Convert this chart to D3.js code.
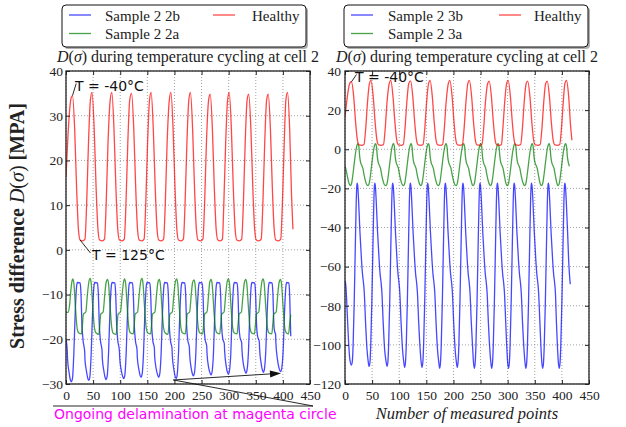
<!DOCTYPE html>
<html lang="en">
<head>
<meta charset="UTF-8">
<title>D(σ) during temperature cycling at cell 2</title>
<script src="https://d3js.org/d3.v7.min.js"></script>
<style>
  body { margin: 0; background: #fff; }
  svg text { font-family: "Liberation Serif", "DejaVu Serif", serif; fill: #222; }
  .grid line { stroke: #8a8a8a; stroke-width: 0.8; stroke-dasharray: 1,2; }
  .frame { fill: none; stroke: #222; stroke-width: 1.3; }
  .series { fill: none; stroke-width: 1.3; stroke-linejoin: round; stroke-opacity: 0.72; }
  svg text.note { font-family: "DejaVu Sans", sans-serif; font-size: 14px; fill: #111; }
  svg text.note.magenta { fill: #ff00ff; }
  .leader { stroke: #111; stroke-width: 0.9; fill: none; }
</style>
</head>
<body>
<script>
// ---- data ----
const xTicks = [0, 50, 100, 150, 200, 250, 300, 350, 400, 450];
const leftYTicks = [-30, -20, -10, 0, 10, 20, 30, 40];
const rightYTicks = [-120, -100, -80, -60, -40, -20, 0, 20, 40];

const leftLegend = ["Sample 2 2b", "Sample 2 2a", "Healthy"];
const rightLegend = ["Sample 2 3b", "Sample 2 3a", "Healthy"];

// Healthy (same in both panels)
const healthy = [
  [0,16.3],[3,24],[6.5,31],[9.5,34],[12,34.5],
  [16,27],[19.5,14],[23,4.5],[26,2.2],[31,2],[35,2.4],[38,10],[41.5,24],[45,33.5],[48,35.2],
  [52,27],[55.5,14],[59,4.5],[62,2.2],[67,2],[71,2.4],[74,10],[77.5,24],[81.5,33.5],[84.5,35.2],
  [88.5,27],[92,14],[95.5,4.5],[98.5,2.2],[103.5,2],[107.5,2.4],[110.5,10],[114,24],[117.5,33.5],[121,35],
  [125,27],[128.5,14],[132,4.5],[135,2.2],[140,2],[144,2.4],[147,10],[150.5,24],[154,33.5],[157,35.2],
  [161,27],[164.5,14],[168,4.5],[171,2.2],[176,2],[180,2.4],[183,10],[186.5,24],[190.5,33.5],[193.5,35.2],
  [197.5,27],[201,14],[204.5,4.5],[207.5,2.2],[212.5,2],[216.5,2.4],[219.5,10],[223,24],[226.5,33.5],[229.5,35.2],
  [233.5,27],[237,14],[240.5,4.5],[243.5,2.2],[248.5,2],[252.5,2.4],[255.5,10],[259,24],[263,33.5],[266,34.8],
  [270,27],[273.5,14],[277,4.5],[280,2.2],[285,2],[288.5,2.4],[291,10],[294.5,24],[298,33.5],[301,35.2],
  [305,27],[308.5,14],[312,4.5],[315,2.2],[320,2],[324,2.4],[327,10],[330.5,24],[334,33.5],[337,34.8],
  [341,27],[344.5,14],[348,4.5],[351,2.2],[356,2],[360,2.4],[363,10],[366.5,24],[370,33.5],[373,34.8],
  [377,27],[380.5,14],[384,4.5],[387,2.2],[392,2],[396,2.4],[399,10],[402.5,24],[405.5,33.5],[408.5,35.2],
  [412.5,27],[416,12],[418.5,4.6]
];

// Sample 2 2a (left, green)
const sample22a = [
  [0,-14],[4,-14],[6.5,-12.5],[9,-9],[11,-7],[12.5,-6.5],
  [14.5,-7.5],[17.5,-13],[20.5,-17.5],[23.5,-18.6],[28.5,-18.8],[30.5,-16.5],[32,-14.4],[36.5,-13.9],[39.5,-10],[42,-7.3],[44.5,-6.4],
  [46.5,-7.5],[49.5,-13],[52.5,-17.5],[55.5,-18.6],[60.5,-18.9],[62.5,-16.5],[64,-14.4],[68.5,-13.9],[71.5,-10],[74,-7.3],[76.5,-6.6],
  [78.5,-7.6],[81.5,-13],[84.5,-17.5],[87.5,-18.7],[92.5,-18.9],[94.5,-16.5],[96,-14.4],[100.5,-13.9],[103.5,-10],[106,-7.3],[108,-6.5],
  [110,-7.5],[113,-13],[116,-17.5],[119,-18.6],[124,-18.8],[126,-16.5],[127.5,-14.4],[132,-13.9],[135,-10],[137.5,-7.3],[140,-6.4],
  [142,-7.5],[145,-13],[148,-17.5],[151,-18.6],[156,-18.8],[158,-16.5],[159.5,-14.4],[164,-13.9],[167,-10],[169.5,-7.3],[172,-6.6],
  [174,-7.6],[177,-13],[180,-17.5],[183,-18.6],[188,-18.9],[190,-16.5],[191.5,-14.4],[196,-13.9],[199,-10],[201.5,-7.3],[204,-6.5],
  [206,-7.5],[209,-13],[212,-17.5],[215,-18.6],[220,-18.8],[222,-16.5],[223.5,-14.4],[228,-13.9],[231,-10],[233.5,-7.3],[236,-6.7],
  [238,-7.7],[241,-13],[244,-17.5],[247,-18.6],[252,-18.8],[254,-16.5],[255.5,-14.4],[260,-13.9],[263,-10],[265,-7.3],[267.5,-6.6],
  [269.5,-7.6],[272.5,-13],[275.5,-17.5],[278.5,-18.6],[283.5,-18.8],[285.5,-16.5],[287,-14.4],[291.5,-13.9],[294.5,-10],[297,-7.3],[299.5,-6.5],
  [301.5,-7.5],[304.5,-13],[307.5,-17.5],[310.5,-18.6],[315.5,-18.8],[317.5,-16.5],[319,-14.4],[323.5,-13.9],[326.5,-10],[329,-7.3],[331.5,-6.6],
  [333.5,-7.6],[336.5,-13],[339.5,-17.5],[342.5,-18.6],[347.5,-18.8],[349.5,-16.5],[351,-14.4],[355.5,-13.9],[358.5,-10],[361,-7.3],[363.5,-6.5],
  [365.5,-7.5],[368.5,-13],[371.5,-17.5],[374.5,-18.6],[379.5,-18.8],[381.5,-16.5],[383,-14.4],[387.5,-13.9],[390.5,-10],[393,-7.3],[395.5,-6.6],
  [397.5,-7.6],[400.5,-13],[403.5,-17.5],[406.5,-18.6],[410.5,-18.8],[412.5,-16.5],[414.5,-14.5]
];

// Sample 2 2b (left, blue)
const sample22b = [
  [0,-20.1],[2.3,-22.5],[2.8,-24.3],[5.8,-27.5],[7.8,-29],[10,-29.5],
  [12,-28.7],[14.5,-23],[17,-14],[19.5,-8.2],[21,-7.3],[26,-7.4],[27.5,-9.5],[29.5,-17],[31.5,-20.3],[34.5,-22.8],[35,-24.6],[38,-27.3],[40,-28.7],[42,-29.2],
  [44,-28.4],[46.5,-23],[49,-14],[51.5,-8.2],[53,-7.3],[58,-7.4],[59.5,-9.5],[61.5,-17],[63.5,-20.3],[66.5,-22.5],[67,-24.3],[70,-27.2],[72,-28.5],[74,-29],
  [76,-28.2],[78.5,-23],[81,-14],[83.5,-8.2],[85,-7.3],[90,-7.4],[91.5,-9.5],[93.5,-17],[95.5,-20.3],[98.5,-22.5],[99,-24],[102,-27],[104.5,-28.3],[106.5,-28.8],
  [108.5,-28],[111,-23],[113.5,-14],[116,-8.2],[117.5,-7.3],[122.5,-7.4],[124,-9.5],[126,-17],[128,-20.3],[131,-22.3],[131.5,-24],[134.5,-26.8],[136.5,-28],[138.5,-28.5],
  [140.5,-27.7],[143,-23],[145.5,-14],[148,-8.2],[149.5,-7.3],[154.5,-7.4],[156,-9.5],[158,-17],[160,-20.2],[163,-22],[163.5,-23.8],[166.5,-26.7],[169,-28],[171,-28.5],
  [173,-27.7],[175.5,-23],[178,-14],[180.5,-8.2],[182,-7.3],[187,-7.4],[188.5,-9.5],[190.5,-17],[192.5,-20.2],[195.5,-22],[196,-23.5],[199,-26.8],[201,-28.2],[203,-28.8],
  [205,-28],[207.5,-23],[210,-14],[212.5,-8.2],[214,-7.3],[219,-7.4],[220.5,-9.5],[222.5,-17],[224.5,-20.1],[227.5,-21.8],[228,-23.3],[231,-26.5],[233,-27.7],[235,-28.2],
  [237,-27.4],[239.5,-23],[242,-14],[244.5,-8.2],[246,-7.3],[251,-7.4],[252.5,-9.5],[254.5,-17],[256.5,-20],[259.5,-21.5],[260,-23],[263,-26.3],[265.5,-27.5],[267.5,-28],
  [269.5,-27.2],[272,-23],[274.5,-14],[277,-8.2],[278.5,-7.3],[283.5,-7.4],[285,-9.5],[287,-17],[289,-19.8],[292,-21],[292.5,-22.5],[295.5,-26],[297.5,-27.3],[299.5,-27.8],
  [301.5,-27],[304,-23],[306.5,-14],[309,-8.2],[310.5,-7.3],[315.5,-7.4],[317,-9.5],[319,-17],[321,-19.6],[324,-20.8],[324.5,-22.3],[327.5,-25.8],[330,-27.1],[332,-27.6],
  [334,-26.8],[336.5,-22.8],[339,-14],[341.5,-8.2],[343,-7.3],[348,-7.4],[349.5,-9.5],[351.5,-17],[353.5,-19.4],[356.5,-20.5],[357,-22],[360,-25.5],[362,-26.8],[364,-27.4],
  [366,-26.6],[368.5,-22.5],[371,-14],[373.5,-8.2],[375,-7.3],[380,-7.4],[381.5,-9.5],[383.5,-17],[385,-18.4],[386.5,-18.8],[387,-20.6],[390,-24.5],[393,-26.5],[396,-27.2],
  [398,-26.4],[400.5,-22.5],[403,-14],[405.5,-8.2],[407,-7.3],[411,-7.4],[412.5,-10],[414.5,-19.3]
];

// Sample 2 3a (right, green)
const sample23a = [
  [0,-8.7],[2,-10.5],[4.5,-14],[7.5,-17.5],[10.5,-18.6],[12.5,-17],[15,-12],[18,-5],[20.5,0],[22.5,2.3],[24,2.8],
  [25.5,1.5],[27,-3.5],[29,-7],[31,-8.3],[33,-9.8],[35,-12.8],[38,-16.5],[40.5,-18.3],[43,-18.6],[45,-17],[47.5,-12],[50.5,-5],[53,0],[55,2.3],[56.5,2.8],
  [58,1.5],[59.5,-3.5],[61.5,-7],[63.5,-8.3],[65.5,-9.8],[67.5,-12.8],[70.5,-16.5],[73,-18.3],[76,-18.6],[78,-17],[80.5,-12],[83.5,-5],[86,0],[88,2.3],[89.5,2.8],
  [91,1.5],[92.5,-3.5],[94.5,-7],[96.5,-8.3],[98.5,-9.8],[100.5,-12.8],[103.5,-16.5],[106,-18.3],[108.5,-18.6],[110.5,-17],[113,-12],[116,-5],[118.5,0],[120.5,2.3],[122,2.8],
  [123.5,1.5],[125,-3.5],[127,-7],[129,-8.3],[131,-9.8],[133,-12.8],[136,-16.5],[138.5,-18.3],[140.5,-18.6],[142.5,-17],[145,-12],[148,-5],[150.5,0],[152.5,2.3],[154,2.8],
  [155.5,1.5],[157,-3.5],[159,-7],[161,-8.3],[163,-9.8],[165,-12.8],[168,-16.5],[170.5,-18.3],[173,-18.6],[175,-17],[177.5,-12],[180.5,-5],[183,0],[185,2.3],[186.5,2.8],
  [188,1.5],[189.5,-3.5],[191.5,-7],[193.5,-8.3],[195.5,-9.8],[197.5,-12.8],[200.5,-16.5],[203,-18.3],[205.5,-18.6],[207.5,-17],[210,-12],[213,-5],[215.5,0],[217.5,2.3],[219,2.8],
  [220.5,1.5],[222,-3.5],[224,-7],[226,-8.3],[228,-9.8],[230,-12.8],[233,-16.5],[235,-18.3],[237,-18.6],[239,-17],[241.5,-12],[244.5,-5],[247,0],[249,2.3],[250.5,2.8],
  [252,1.5],[253.5,-3.5],[255.5,-7],[257.5,-8.3],[259.5,-9.8],[261.5,-12.8],[264.5,-16.5],[267,-18.3],[269,-18.6],[271,-17],[273.5,-12],[276.5,-5],[279,0],[281,2.3],[282.5,2.8],
  [284,1.5],[285.5,-3.5],[287.5,-7],[289.5,-8.3],[291.5,-9.8],[293.5,-12.8],[296,-16.5],[298,-18.3],[300,-18.6],[302,-17],[304.5,-12],[307.5,-5],[310,0],[312,2.3],[313.5,2.8],
  [315,1.5],[316.5,-3.5],[318.5,-7],[320.5,-8.3],[322.5,-9.8],[324.5,-12.8],[327.5,-16.5],[330,-18.3],[332,-18.6],[334,-17],[336.5,-12],[339.5,-5],[342,0],[344,2.3],[345.5,2.8],
  [347,1.5],[348.5,-3.5],[350.5,-7],[352.5,-8.3],[354.5,-9.8],[356.5,-12.8],[359,-16.5],[361,-18.3],[363,-18.6],[365,-17],[367.5,-12],[370.5,-5],[373,0],[375,2.3],[376.5,2.8],
  [378,1.5],[379.5,-3.5],[381.5,-7],[383.5,-8.3],[385.5,-9.8],[387.5,-12.8],[390,-16.5],[392,-18.3],[393.5,-18.6],[395.5,-17],[398,-12],[401,-5],[403.5,0],[405.5,2.3],[407,2.8],
  [408.5,1.5],[410,-3.5],[412,-7],[414,-8.7]
];

// Sample 2 3b (right, blue)
const sample23b = [
  [0,-67.2],[1.5,-69.5],[4,-83],[6.5,-98],[9,-107.5],[12,-110.3],[13.5,-108.5],[15,-100],[17,-78],[19,-50],[20.7,-27],[21.7,-19],[22.5,-17.3],
  [23.5,-18.8],[25,-26],[27.5,-42],[30.5,-57],[32.5,-64.5],[34,-68],[35.5,-73],[38,-89],[40.5,-102],[43,-109],[44.5,-111],[46,-109],[47.5,-100],[49.5,-78],[51.5,-50],[53.2,-27],[54.2,-19],[55,-17.3],
  [56,-18.8],[57.5,-26],[60,-42],[63,-57],[65,-64.5],[66.5,-68],[68,-73],[70.5,-89],[73,-102],[76,-109],[77.5,-111],[79,-109],[80.5,-100],[82.5,-78],[84.5,-50],[86.2,-27],[87.2,-19],[88,-17.3],
  [89,-18.8],[90.5,-26],[93,-42],[96,-57],[98,-64.5],[99.5,-68],[101,-73],[103.5,-89],[106,-102],[108.5,-109],[110,-111.5],[111.5,-109],[113,-100],[115,-78],[117,-50],[118.7,-27],[119.7,-19],[120.5,-17.3],
  [121.5,-18.8],[123,-26],[125.5,-42],[128.5,-57],[130.5,-64.5],[132,-68],[133.5,-73],[136,-89],[138.5,-102],[140.5,-109],[142,-111.5],[143.5,-109],[145,-100],[147,-78],[149,-50],[150.7,-27],[151.7,-19],[152.5,-17.3],
  [153.5,-18.8],[155,-26],[157.5,-42],[160.5,-57],[162.5,-64.5],[164,-68],[165.5,-73],[168,-89],[170.5,-102],[173,-109],[174.5,-112],[176,-109.5],[177.5,-100],[179.5,-78],[181.5,-50],[183.2,-27],[184.2,-19],[185,-17.3],
  [186,-18.8],[187.5,-26],[190,-42],[193,-57],[195,-64.5],[196.5,-68],[198,-73],[200.5,-89],[203,-102],[205.5,-109],[207,-111.5],[208.5,-109],[210,-100],[212,-78],[214,-50],[215.7,-27],[216.7,-19],[217.5,-17.3],
  [218.5,-18.8],[220,-26],[222.5,-42],[225.5,-57],[227.5,-64.5],[229,-68],[230.5,-73],[233,-89],[235.5,-102],[237,-109],[238.5,-112],[240,-109.5],[241.5,-100],[243.5,-78],[245.5,-50],[247.2,-27],[248.2,-19],[249,-17.3],
  [250,-18.8],[251.5,-26],[254,-42],[257,-57],[259,-64.5],[260.5,-68],[262,-73],[264.5,-89],[267,-102],[269,-109],[270.5,-112],[272,-109.5],[273.5,-100],[275.5,-78],[277.5,-50],[279.2,-27],[280.2,-19],[281,-17.3],
  [282,-18.8],[283.5,-26],[286,-42],[289,-57],[291,-64.5],[292.5,-68],[294,-73],[296.5,-89],[298.5,-102],[300,-109],[301.5,-112],[303,-109.5],[304.5,-100],[306.5,-78],[308.5,-50],[310.2,-27],[311.2,-19],[312,-17.3],
  [313,-18.8],[314.5,-26],[317,-42],[320,-57],[322,-64.5],[323.5,-68],[325,-73],[327.5,-89],[330,-102],[332,-109],[333.5,-112],[335,-109.5],[336.5,-100],[338.5,-78],[340.5,-50],[342.2,-27],[343.2,-19],[344,-17.3],
  [345,-18.8],[346.5,-26],[349,-42],[352,-57],[354,-64.5],[355.5,-68],[357,-73],[359.5,-89],[361.5,-102],[363,-109],[364.5,-112],[366,-109.5],[367.5,-100],[369.5,-78],[371.5,-50],[373.2,-27],[374.2,-19],[375,-17.3],
  [376,-18.8],[377.5,-26],[380,-42],[383,-57],[385,-64.5],[386.5,-68],[388,-73],[390,-89],[392,-102],[393.5,-109],[395,-112],[396.5,-109.5],[398,-100],[400,-78],[402,-50],[403.7,-27],[404.7,-19],[405.5,-17.3],
  [406.5,-18.8],[408,-26],[410.5,-42],[412.5,-57],[414,-64],[415.5,-69]
];

const BLUE = "#0000ff", GREEN = "#008000", RED = "#ff0000";

// ---- layout ----
const W = 626, H = 427;
const plotTop = 71, plotBottom = 384;

const svg = d3.select("body").append("svg")
    .attr("width", W).attr("height", H)
    .attr("viewBox", `0 0 ${W} ${H}`);

const panels = [
  { left: 66, right: 310, yDomain: [-30, 40], yTicks: leftYTicks, pad: 3,
    series: [[sample22b, BLUE], [sample22a, GREEN], [healthy, RED]] },
  { left: 345, right: 589, yDomain: [-120, 40], yTicks: rightYTicks, pad: 4,
    series: [[sample23b, BLUE], [sample23a, GREEN], [healthy, RED]] }
];

const scales = panels.map((p, i) => {
  const x = d3.scaleLinear().domain([0, 450]).range([p.left, p.right]);
  const y = d3.scaleLinear().domain(p.yDomain).range([plotBottom, plotTop]);
  const g = svg.append("g");

  // dotted grid
  const grid = g.append("g").attr("class", "grid");
  grid.selectAll("line.v").data(xTicks).join("line").attr("class", "v")
      .attr("x1", d => x(d)).attr("x2", d => x(d)).attr("y1", plotTop).attr("y2", plotBottom);
  grid.selectAll("line.h").data(p.yTicks).join("line").attr("class", "h")
      .attr("x1", p.left).attr("x2", p.right).attr("y1", d => y(d)).attr("y2", d => y(d));

  g.append("clipPath").attr("id", "clip" + i)
    .append("rect").attr("x", p.left).attr("y", plotTop)
    .attr("width", p.right - p.left).attr("height", plotBottom - plotTop);

  const line = d3.line().x(d => x(d[0])).y(d => y(d[1])).curve(d3.curveMonotoneX);
  g.append("g").attr("clip-path", `url(#clip${i})`)
    .selectAll("path").data(p.series).join("path")
      .attr("class", "series")
      .attr("stroke", d => d[1])
      .attr("d", d => line(d[0]));

  // ticks on all four sides, pointing in
  const ax = (gen, tx, ty, labels) => {
    const a = g.append("g").attr("transform", `translate(${tx},${ty})`).call(gen);
    a.select(".domain").remove();
    a.selectAll(".tick line").attr("stroke", "#222");
    a.selectAll("text").attr("font-family", "Liberation Serif, serif")
      .attr("font-size", 13.5);
    if (!labels) a.selectAll("text").remove();
    return a;
  };
  ax(d3.axisBottom(x).tickValues(xTicks).tickSize(-4).tickPadding(6), 0, plotBottom, true);
  ax(d3.axisTop(x).tickValues(xTicks).tickSize(-4), 0, plotTop, false);
  ax(d3.axisLeft(y).tickValues(p.yTicks).tickSize(-4).tickPadding(p.pad), p.left, 0, true);
  ax(d3.axisRight(y).tickValues(p.yTicks).tickSize(-4), p.right, 0, false);

  g.append("rect").attr("class", "frame")
    .attr("x", p.left).attr("y", plotTop)
    .attr("width", p.right - p.left).attr("height", plotBottom - plotTop);

  // title
  const cx = (p.left + p.right) / 2;
  const t = g.append("text").attr("x", cx).attr("y", 62)
    .attr("text-anchor", "middle").attr("font-size", 16);
  t.append("tspan").attr("font-style", "italic").text("D");
  t.append("tspan").text("(");
  t.append("tspan").attr("font-style", "italic").text("σ");
  t.append("tspan").text(") during temperature cycling at cell 2");

  return { x, y };
});

// ---- legends ----
function legend(x0, labels, lx, tx) {
  const g = svg.append("g");
  g.append("rect").attr("x", x0 + 2).attr("y", 7).attr("width", 244).attr("height", 42)
    .attr("rx", 4).attr("fill", "#7a7a7a").attr("opacity", 0.6);
  g.append("rect").attr("x", x0).attr("y", 5).attr("width", 244).attr("height", 42)
    .attr("rx", 4).attr("fill", "#fff").attr("stroke", "#111").attr("stroke-width", 1);
  const items = [
    { label: labels[0], color: BLUE, lx: lx[0], tx: tx[0], y: 15 },
    { label: labels[1], color: GREEN, lx: lx[0], tx: tx[0], y: 33.5 },
    { label: labels[2], color: RED, lx: lx[1], tx: tx[1], y: 15 }
  ];
  items.forEach(it => {
    g.append("line").attr("x1", it.lx).attr("x2", it.lx + 22)
      .attr("y1", it.y).attr("y2", it.y)
      .attr("stroke", it.color).attr("stroke-opacity", 0.72).attr("stroke-width", 1.3);
    g.append("text").attr("x", it.tx).attr("y", it.y + 5.5)
      .attr("font-size", 15).text(it.label);
  });
}
legend(62, leftLegend, [69, 213], [105, 252]);
legend(344, rightLegend, [351, 499], [388, 534]);

// ---- annotations ----
const L = scales[0], R = scales[1];
function note(ax, ay, ex, ey, tx, ty, label) {
  svg.append("line").attr("class", "leader")
    .attr("x1", ax).attr("y1", ay).attr("x2", ex).attr("y2", ey);
  svg.append("text").attr("class", "note").attr("x", tx).attr("y", ty).text(label);
}
note(L.x(12), L.y(34.5), 76.2, 83.5, 75, 91, "T = -40°C");
note(R.x(12), R.y(34.5), 356.5, 74.5, 355, 82, "T = -40°C");
note(L.x(26), L.y(2.2), 90.5, 253, 92, 260, "T = 125°C");

// delamination arrow
const a0 = [L.x(198), L.y(-29.1)], a1 = [L.x(396.5), L.y(-27.6)];
svg.append("path").attr("class", "leader")
  .attr("d", `M53,406H313L${a0[0]},${a0[1]}`);
const ang = Math.atan2(a1[1] - a0[1], a1[0] - a0[0]);
const tip = a1, back = 11, half = 3.5;
const bx = tip[0] - back * Math.cos(ang), by = tip[1] - back * Math.sin(ang);
svg.append("line").attr("class", "leader")
  .attr("x1", a0[0]).attr("y1", a0[1]).attr("x2", bx).attr("y2", by);
svg.append("path").attr("fill", "#111")
  .attr("d", `M${tip[0]},${tip[1]}L${bx + half * Math.sin(ang)},${by - half * Math.cos(ang)}L${bx - half * Math.sin(ang)},${by + half * Math.cos(ang)}Z`);

svg.append("text").attr("class", "note magenta").attr("x", 54).attr("y", 419)
  .text("Ongoing delamination at magenta circle");

// ---- axis labels ----
const yl = svg.append("text")
  .attr("transform", "translate(24,226) rotate(-90)")
  .attr("text-anchor", "middle").attr("font-size", 20).attr("font-weight", "bold");
yl.append("tspan").text("Stress difference ");
yl.append("tspan").attr("font-style", "italic").attr("font-weight", "normal").text("D");
yl.append("tspan").attr("font-weight", "normal").text("(");
yl.append("tspan").attr("font-style", "italic").attr("font-weight", "normal").text("σ");
yl.append("tspan").attr("font-weight", "normal").text(")");
yl.append("tspan").text(" [MPA]");

svg.append("text").attr("x", 467).attr("y", 419)
  .attr("text-anchor", "middle").attr("font-size", 16.5).attr("font-style", "italic")
  .text("Number of measured points");
</script>
</body>
</html>
